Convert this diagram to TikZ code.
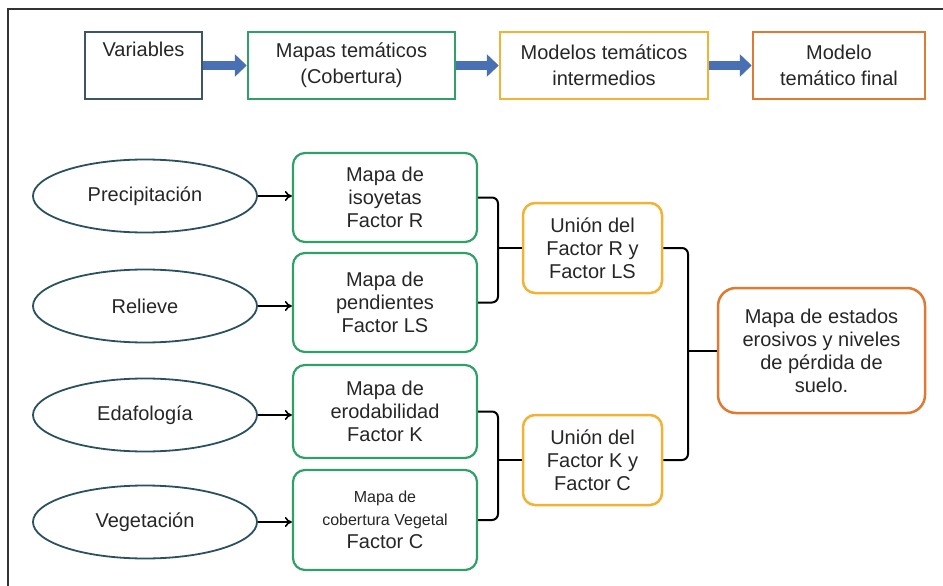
\documentclass[tikz,border=0pt]{standalone}
\usepackage{fontspec}
\setmainfont{Liberation Sans}
\usepackage{tikz}
\usetikzlibrary{shapes}
\usetikzlibrary{arrows.meta}
\definecolor{slate}{RGB}{62,85,99}
\definecolor{mapgreen}{RGB}{46,160,104}
\definecolor{gold}{RGB}{242,178,52}
\definecolor{rust}{RGB}{222,122,50}
\definecolor{flowblue}{RGB}{72,112,178}
\definecolor{ellteal}{RGB}{43,80,96}
\newcommand{\smalltxt}{\fontsize{16}{19}\selectfont}

\begin{document}
\begin{tikzpicture}[x=1pt,y=-1pt,
    txt/.style={font=\fontsize{20}{23}\selectfont,align=center,text=black!85},
    head/.style={txt,draw,line width=2.5pt,minimum height=67pt,inner sep=0pt},
    var/.style={txt,ellipse,draw=ellteal,line width=1.8pt,minimum width=224pt,minimum height=73pt},
    mapbox/.style={txt,draw=mapgreen,line width=2.2pt,rounded corners=12pt,minimum width=184pt,inner sep=2pt},
    unionbox/.style={txt,draw=gold,line width=2.5pt,rounded corners=12pt,minimum width=139pt,minimum height=90pt},
    flow/.style={line width=9pt,flowblue,-{Triangle[length=12pt,width=22pt]}},
    feed/.style={line width=1.6pt,-{To[length=7pt,width=10pt]}},
    brace/.style={line width=2pt,rounded corners=6pt}]
    \useasboundingbox (0,0) rectangle (943,586);
    % Frame
    \draw[line width=1.5pt,black!80] (8,586) -- (8,9) -- (943,9);
    % Top row
    \node[head,draw=slate,minimum width=117pt] (vars) at (143.5,65.5) {Variables\\[3pt]\strut};
    \node[head,draw=mapgreen,minimum width=207pt] (maps) at (351.5,65.5) {Mapas temáticos\\[3pt](Cobertura)};
    \node[head,draw=gold,minimum width=208pt] (mods) at (604,65.5) {Modelos temáticos\\[3pt]intermedios};
    \node[head,draw=rust,minimum width=172pt] (modf) at (839,65.5) {Modelo\\[3pt]temático final};
    \draw[flow] (vars) -- (maps);
    \draw[flow] (maps) -- (mods);
    \draw[flow] (mods) -- (modf);
    % Variables
    \node[var] (prec) at (145,196) {Precipitación};
    \node[var] (rel) at (145,306) {Relieve};
    \node[var] (edaf) at (145,415) {Edafología};
    \node[var] (veg) at (145,522) {Vegetación};
    % Thematic maps
    \node[mapbox,minimum height=89pt] (isoy) at (385,197.5) {Mapa de\\isoyetas\\Factor R};
    \node[mapbox,minimum height=99pt] (pend) at (385,302.5) {Mapa de\\pendientes\\Factor LS};
    \node[mapbox,minimum height=93pt] (erod) at (385,411.5) {Mapa de\\erodabilidad\\Factor K};
    \node[mapbox,minimum height=100pt] (cob) at (385,520) {{\smalltxt Mapa de}\\{\smalltxt cobertura Vegetal}\\Factor C};
    \draw[feed] (prec.east) -- (prec.east -| isoy.west);
    \draw[feed] (rel.east) -- (rel.east -| pend.west);
    \draw[feed] (edaf.east) -- (edaf.east -| erod.west);
    \draw[feed] (veg.east) -- (veg.east -| cob.west);
    % Intermediate models
    \node[unionbox] (un1) at (592.5,248) {Unión del\\Factor R y\\Factor LS};
    \node[unionbox] (un2) at (592.5,460) {Unión del\\Factor K y\\Factor C};
    \coordinate (j1) at (498,248);
    \coordinate (j2) at (498,460);
    \draw[brace] (isoy.east) -| (j1) |- (pend.east);
    \draw[brace] (j1) -- (un1.west);
    \draw[brace] (erod.east) -| (j2) |- (cob.east);
    \draw[brace] (j2) -- (un2.west);
    % Final model
    \node[txt,draw=rust,line width=2.5pt,rounded corners=18pt,minimum width=207pt,minimum height=125pt] (fin) at (821.5,350.5) {Mapa de estados\\erosivos y niveles\\de pérdida de\\suelo.};
    \coordinate (j3) at (688,350.5);
    \draw[brace] (un1.east) -| (j3) |- (un2.east);
    \draw[brace] (j3) -- (fin.west);
\end{tikzpicture}
\end{document}
